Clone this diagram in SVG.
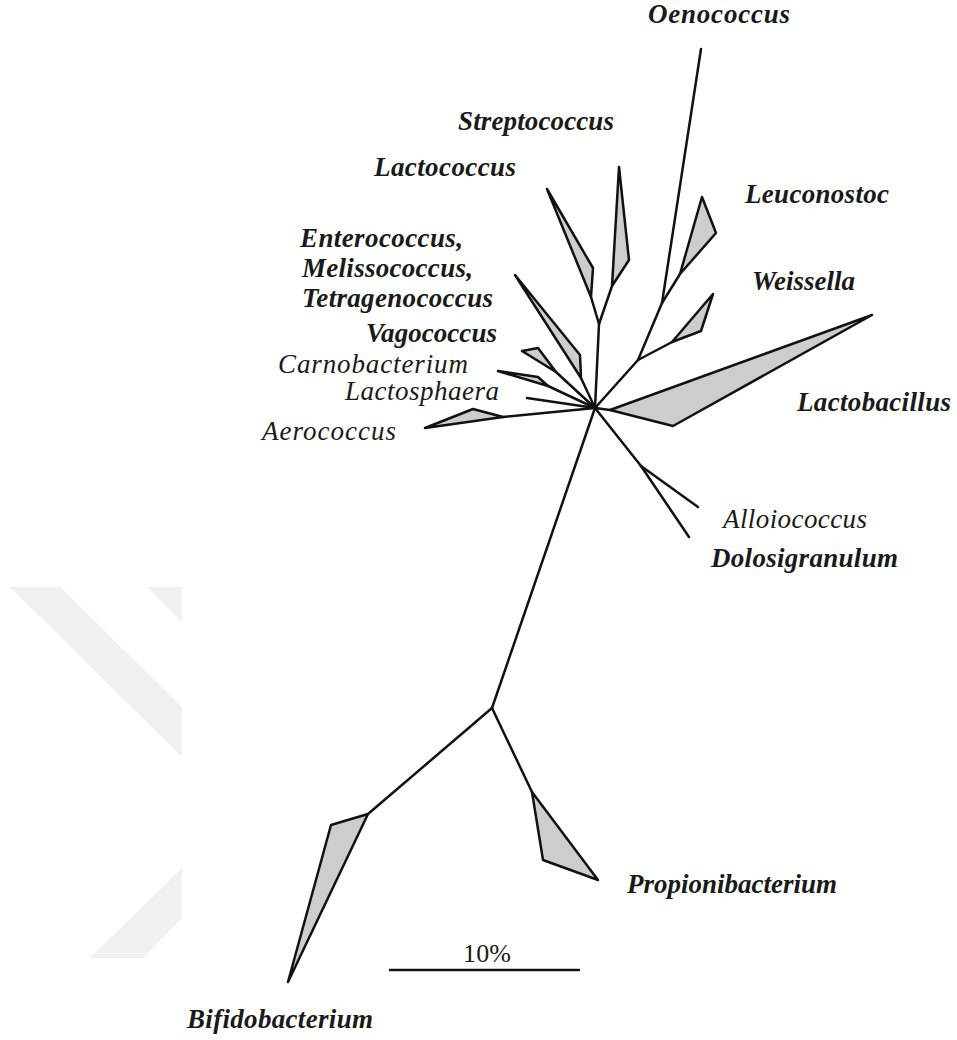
<svg xmlns="http://www.w3.org/2000/svg" width="957" height="1040" viewBox="0 0 957 1040">
<style>
.br{fill:none;stroke:#111;stroke-width:2.5;stroke-linejoin:round;stroke-linecap:round}
.cl{fill:#cdcdcd;stroke:#111;stroke-width:2.5;stroke-linejoin:round}
.lb{font-family:'Liberation Serif','DejaVu Serif',serif;font-size:27px;font-style:italic;font-weight:700;fill:#1a1a1a}
.lt{font-weight:400}
.sc{font-family:'Liberation Serif','DejaVu Serif',serif;font-size:26px;fill:#1a1a1a}
.wm{fill:#f0f0f0}
</style>
<rect width="957" height="1040" fill="#fff"/>
<g id="watermark">
<polygon class="wm" points="10,587 60,587 182,707 182,757"/>
<polygon class="wm" points="147,587 182,587 182,622"/>
<polygon class="wm" points="90,958 182,868 182,918 143,958"/>
</g>
<g id="connectors">
<polyline class="br" points="595,408 638,360 662,303"/>
<line class="br" x1="662" y1="303" x2="680" y2="274"/>
<line class="br" x1="638" y1="360" x2="674" y2="341"/>
<polyline class="br" points="595,408 599,324 591,297"/>
<line class="br" x1="599" y1="324" x2="612" y2="286"/>
<line class="br" x1="581" y1="378" x2="595" y2="408"/>
<line class="br" x1="556" y1="372" x2="595" y2="408"/>
<line class="br" x1="548" y1="386" x2="595" y2="408"/>
<line class="br" x1="503" y1="417" x2="595" y2="408"/>
<line class="br" x1="595" y1="408" x2="610" y2="410"/>
<line class="br" x1="595" y1="408" x2="641" y2="466"/>
<line class="br" x1="595" y1="408" x2="492" y2="708"/>
<line class="br" x1="492" y1="708" x2="368" y2="814"/>
<line class="br" x1="492" y1="708" x2="532" y2="792"/>
</g>
<g id="oenococcus">
<line class="br" x1="662" y1="303" x2="701" y2="49"/>
<text class="lb" x="648" y="23" textLength="142" lengthAdjust="spacing">Oenococcus</text>
</g>
<g id="leuconostoc">
<polygon class="cl" points="680,274 702,197 716,233"/>
<text class="lb" x="745" y="203" textLength="144" lengthAdjust="spacing">Leuconostoc</text>
</g>
<g id="weissella">
<polygon class="cl" points="672,342 713,294 701,331"/>
<text class="lb" x="752" y="290" textLength="103" lengthAdjust="spacing">Weissella</text>
</g>
<g id="streptococcus">
<polygon class="cl" points="612,286 619,167 629,260"/>
<text class="lb" x="458" y="130" textLength="156" lengthAdjust="spacing">Streptococcus</text>
</g>
<g id="lactococcus">
<polygon class="cl" points="591,297 547,189 593,268"/>
<text class="lb" x="374" y="176" textLength="142" lengthAdjust="spacing">Lactococcus</text>
</g>
<g id="enterococcus">
<polygon class="cl" points="581,378 515,275 580,355"/>
<text class="lb" x="300" y="247" textLength="163" lengthAdjust="spacing">Enterococcus,</text>
<text class="lb" x="302" y="277" textLength="171" lengthAdjust="spacing">Melissococcus,</text>
<text class="lb" x="302" y="307" textLength="191" lengthAdjust="spacing">Tetragenococcus</text>
</g>
<g id="vagococcus">
<polygon class="cl" points="556,372 522,351 538,348"/>
<text class="lb" x="366" y="342" textLength="131" lengthAdjust="spacing">Vagococcus</text>
</g>
<g id="carnobacterium">
<polygon class="cl" points="548,386 498,371 538,377"/>
<text class="lb lt" x="278" y="373" textLength="190" lengthAdjust="spacing">Carnobacterium</text>
</g>
<g id="lactosphaera">
<line class="br" x1="527" y1="398" x2="595" y2="408"/>
<text class="lb lt" x="345" y="400" textLength="154" lengthAdjust="spacing">Lactosphaera</text>
</g>
<g id="aerococcus">
<polygon class="cl" points="503,417 425,428 473,409"/>
<text class="lb lt" x="262" y="440" textLength="134" lengthAdjust="spacing">Aerococcus</text>
</g>
<g id="lactobacillus">
<polygon class="cl" points="610,410 872,315 673,426"/>
<text class="lb" x="797" y="411" textLength="154" lengthAdjust="spacing">Lactobacillus</text>
</g>
<g id="alloiococcus">
<line class="br" x1="641" y1="466" x2="698" y2="507"/>
<text class="lb lt" x="723" y="528" textLength="144" lengthAdjust="spacing">Alloiococcus</text>
</g>
<g id="dolosigranulum">
<line class="br" x1="641" y1="466" x2="689" y2="537"/>
<text class="lb" x="711" y="567" textLength="187" lengthAdjust="spacing">Dolosigranulum</text>
</g>
<g id="propionibacterium">
<polygon class="cl" points="532,792 543,860 598,880"/>
<text class="lb" x="627" y="893" textLength="210" lengthAdjust="spacing">Propionibacterium</text>
</g>
<g id="bifidobacterium">
<polygon class="cl" points="368,814 331,825 288,982"/>
<text class="lb" x="187" y="1028" textLength="186" lengthAdjust="spacing">Bifidobacterium</text>
</g>
<g id="scalebar">
<line class="br" x1="390" y1="970" x2="579" y2="970"/>
<text class="sc" x="463" y="962" textLength="48" lengthAdjust="spacing">10%</text>
</g>
</svg>
